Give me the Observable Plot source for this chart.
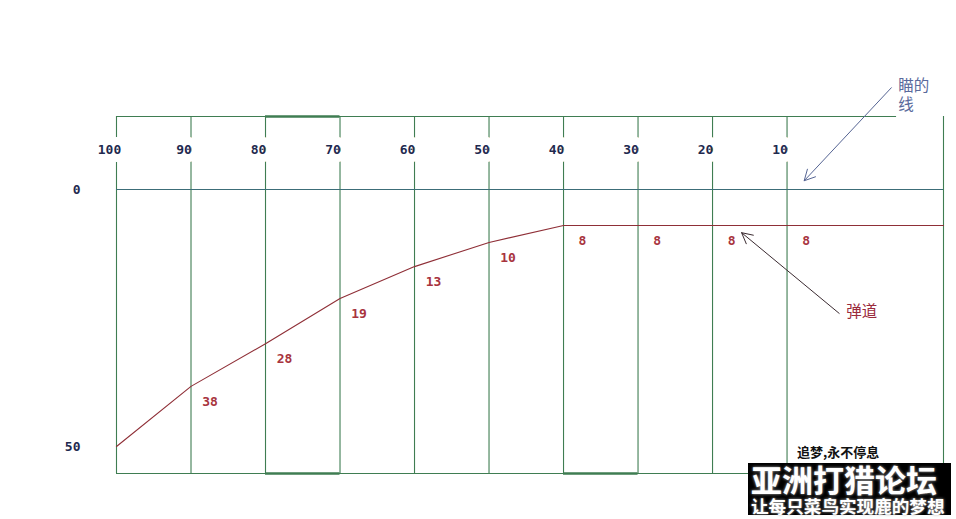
<!DOCTYPE html>
<html>
<head>
<meta charset="utf-8">
<script src="https://cdn.jsdelivr.net/npm/d3@7"></script>
<script src="https://cdn.jsdelivr.net/npm/@observablehq/plot@0.6"></script>
<style>
  body { margin: 0; background: #fff; }
  #wrap { position: relative; width: 956px; height: 519px; overflow: hidden; background: #fff; }
  #wrap svg { display: block; }
  .wm { position: absolute; font-family: "Noto Sans CJK SC", sans-serif; font-weight: 700; white-space: nowrap; }
  #wm-slogan { left: 797px; top: 445px; font-size: 13px; color: #111; line-height: 1; }
  #wm-box { left: 748px; top: 463px; width: 203px; height: 52px; background: #000; }
  #wm-title { left: 751px; top: 463px; font-size: 31px; color: #fff; line-height: 1; text-shadow: 0 0 3px #bbb; }
  #wm-sub { left: 751px; top: 496.5px; font-size: 17.6px; color: #fff; line-height: 1; text-shadow: 0 0 3px #bbb; }
</style>
</head>
<body>
<div id="wrap"></div>
<script>
// ---- data ----
const distances = [100, 90, 80, 70, 60, 50, 40, 30, 20, 10];
const pathDistances = [100, 90, 80, 70, 60, 50, 40, -11];
const pathDrop = [50, 38.3, 30, 21.2, 15, 10.3, 7, 7];
const labelDistances = [90, 80, 70, 60, 50, 40, 30, 20, 10];
const labelValues = [38, 28, 19, 13, 10, 8, 8, 8, 8];
const labelDrop = [38.3, 30, 21.2, 15, 10.3, 7, 7, 7, 7];
const yTicks = [0, 50];
const noteTexts = ["瞄的\n线", "弹道"];
const noteTail = [[-4, -19.8], [3, 24.1]];
const noteHead = [[7.7, -1.7], [16.1, 8.4]];

// ---- frame extents (data units) ----
const topY = -14.2, bottomY = 55.25, rightX = -11, topEndX = -4.7, labelRowY = -7.8;

const green = "#3f7d52";
const blue = "#3c6d78";
const red = "#8f2f37";
const navy = "#1f2a4f";
const mono = "'DejaVu Sans Mono', monospace";

const path = pathDistances.map((d, i) => ({d, v: pathDrop[i]}));
const labels = labelDistances.map((d, i) => ({d, v: labelDrop[i], t: String(labelValues[i])}));
const notes = noteTexts.map((t, i) => ({t, x1: noteTail[i][0], y1: noteTail[i][1], x2: noteHead[i][0], y2: noteHead[i][1]}));

const chart = Plot.plot({
  width: 956,
  height: 519,
  marginTop: 0,
  marginBottom: 0,
  marginLeft: 116,
  marginRight: 13,
  x: {domain: [100, rightX], axis: null},
  y: {domain: [-36.77, 64.2], reverse: true, axis: null},
  style: {background: "#fff"},
  marks: [
    Plot.ruleX(distances, {x: d => d, y1: topY, y2: bottomY, stroke: green, strokeWidth: 1.1}),
    Plot.ruleX([rightX], {x: d => d, y1: topY, y2: bottomY, stroke: green, strokeWidth: 1.1}),
    Plot.ruleY([topY], {y: d => d, x1: 100, x2: topEndX, stroke: green, strokeWidth: 1.1}),
    Plot.ruleY([topY], {y: d => d, x1: 80, x2: 70, stroke: green, strokeWidth: 2.4}),
    Plot.ruleY([bottomY], {y: d => d, x1: 100, x2: rightX, stroke: green, strokeWidth: 1.1}),
    Plot.ruleY([bottomY], {y: d => d, x1: 80, x2: 70, stroke: green, strokeWidth: 2.4}),
    Plot.ruleY([bottomY], {y: d => d, x1: 40, x2: 30, stroke: green, strokeWidth: 2.4}),
    Plot.ruleY([0], {y: d => d, x1: 100, x2: rightX, stroke: blue, strokeWidth: 1.1}),
    Plot.text(distances, {
      x: d => d, y: labelRowY, text: d => String(d), dx: -7,
      fill: navy, fontFamily: mono, fontWeight: "bold", fontSize: 13,
      stroke: "white", strokeWidth: 16, paintOrder: "stroke"
    }),
    Plot.axisY(yTicks, {
      anchor: "left", tickSize: 0, tickPadding: 36, label: null,
      fill: navy, fontFamily: mono, fontWeight: "bold", fontSize: 13
    }),
    Plot.line(path, {x: "d", y: "v", stroke: red, strokeWidth: 1.1}),
    Plot.text(labels, {
      x: "d", y: "v", text: "t", dx: 19, dy: 15,
      fill: "#a8343e", fontFamily: mono, fontWeight: "bold", fontSize: 13
    }),
    Plot.arrow(notes, {
      x1: "x1", y1: "y1", x2: "x2", y2: "y2",
      stroke: (d, i) => i === 0 ? "#556493" : "#3a2a30",
      strokeWidth: 1, headLength: 18, headAngle: 55
    }),
    Plot.text(notes, {
      x: "x1", y: "y1", text: "t", textAnchor: "start", lineAnchor: "top",
      dx: 7, dy: -10, lineHeight: 1.2,
      fill: (d, i) => i === 0 ? "#5a6a9c" : "#9a2a3c",
      fontFamily: "'Noto Sans CJK SC', sans-serif", fontSize: 15.5
    })
  ]
});

const wrap = document.getElementById("wrap");
wrap.appendChild(chart);

[["wm-slogan", "追梦,永不停息"], ["wm-box", ""], ["wm-title", "亚洲打猎论坛"], ["wm-sub", "让每只菜鸟实现鹿的梦想"]].forEach(([id, t]) => {
  const el = document.createElement("div");
  el.id = id; el.className = "wm"; el.textContent = t;
  wrap.appendChild(el);
});
</script>
</body>
</html>
